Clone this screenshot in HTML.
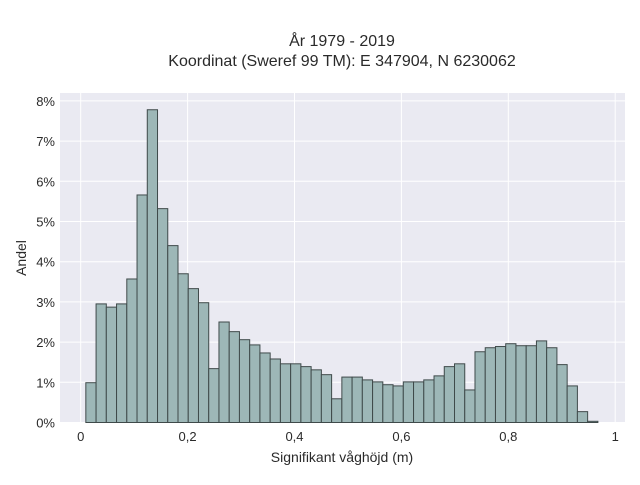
<!DOCTYPE html>
<html><head><meta charset="utf-8"><style>
body{margin:0;background:#fff;}
svg text{font-family:"Liberation Sans",sans-serif;fill:#2a2a2a;}
</style></head><body>
<svg id="chart" width="640" height="480">
<rect x="60" y="93" width="565" height="329.5" fill="#eaeaf2"/>
<text x="342" y="46" text-anchor="middle" font-size="16">År 1979 - 2019</text>
<text x="342" y="66" text-anchor="middle" font-size="16">Koordinat (Sweref 99 TM): E 347904, N 6230062</text>
<text x="342" y="462" text-anchor="middle" font-size="14">Signifikant våghöjd (m)</text>
<text x="0" y="0" transform="translate(26,258) rotate(-90)" text-anchor="middle" font-size="14">Andel</text>
<g id="grid"></g><g id="bars"></g><g id="ticks"></g>
</svg>
<script>
const values=[0.99,2.95,2.87,2.95,3.57,5.66,7.78,5.32,4.40,3.70,3.33,2.98,1.34,2.50,2.26,2.06,1.93,1.73,1.58,1.46,1.46,1.39,1.31,1.19,0.59,1.13,1.13,1.06,1.01,0.94,0.91,1.01,1.01,1.06,1.16,1.39,1.46,0.81,1.76,1.86,1.89,1.96,1.91,1.91,2.03,1.86,1.44,0.91,0.27,0.03];
const binStart=0.0096, binWidth=0.01916;
const xTicks=[0,0.2,0.4,0.6,0.8,1];
const xTickLabels=["0","0,2","0,4","0,6","0,8","1"];
const yTicks=[0,1,2,3,4,5,6,7,8];
const NS="http://www.w3.org/2000/svg";
const xs=v=>80.7+v*534.5;
const ys=v=>422.5-v*40.2;
const grid=document.getElementById('grid'),bars=document.getElementById('bars'),ticks=document.getElementById('ticks');
function mk(tag,attrs,parent){const e=document.createElementNS(NS,tag);for(const k in attrs)e.setAttribute(k,attrs[k]);parent.appendChild(e);return e;}
xTicks.forEach((t,i)=>{
 const l=mk('line',{x1:xs(t),x2:xs(t),y1:93,y2:422.5,stroke:'#fff','stroke-width':1},grid);
 
 
 const tx=mk('text',{x:xs(t),y:441,'text-anchor':'middle','font-size':13},ticks);
 tx.textContent=xTickLabels[i];
 
 
});
yTicks.forEach(t=>{
 const l=mk('line',{x1:60,x2:625,y1:ys(t),y2:ys(t),stroke:'#fff','stroke-width':1},grid);
 
 
 const tx=mk('text',{x:55,y:ys(t)+5,'text-anchor':'end','font-size':13},ticks);
 tx.textContent=t+'%';
 
 
});
values.forEach((v,i)=>{
 const x0=xs(binStart+i*binWidth),x1=xs(binStart+(i+1)*binWidth);
 const r=mk('rect',{x:x0,y:ys(v),width:x1-x0,height:ys(0)-ys(v),fill:'#9db7b7',stroke:'#3f4a4a','stroke-width':1},bars);
 
 
});
</script>
</body></html>
